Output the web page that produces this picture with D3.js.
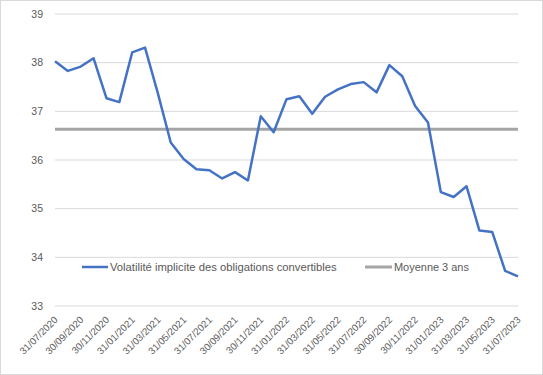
<!DOCTYPE html>
<html><head><meta charset="utf-8">
<script src="https://cdn.jsdelivr.net/npm/d3@7"></script>
<style>body{margin:0;background:#fff;} svg{display:block;font-family:"Liberation Sans",Arial,sans-serif;}</style>
</head><body><svg id="c" width="543" height="375"></svg>
<script>
const dates = ["31/07/2020","31/08/2020","30/09/2020","31/10/2020","30/11/2020","31/12/2020","31/01/2021","28/02/2021","31/03/2021","30/04/2021","31/05/2021","30/06/2021","31/07/2021","31/08/2021","30/09/2021","31/10/2021","30/11/2021","31/12/2021","31/01/2022","28/02/2022","31/03/2022","30/04/2022","31/05/2022","30/06/2022","31/07/2022","31/08/2022","30/09/2022","31/10/2022","30/11/2022","31/12/2022","31/01/2023","28/02/2023","31/03/2023","30/04/2023","31/05/2023","30/06/2023","31/07/2023"];
const volatility = [38.03,37.83,37.92,38.09,37.27,37.19,38.21,38.31,37.37,36.36,36.02,35.81,35.79,35.62,35.75,35.58,36.90,36.57,37.25,37.31,36.95,37.30,37.45,37.56,37.60,37.39,37.95,37.72,37.11,36.77,35.34,35.24,35.46,34.55,34.52,33.72,33.61];
const average3y = dates.map(() => 36.63);
const yTicks = [33,34,35,36,37,38,39];
const tickLabels = dates.filter((d,i) => i % 2 === 0);
const seriesNames = ["Volatilité implicite des obligations convertibles","Moyenne 3 ans"];

const svg = d3.select("#c");
svg.append("rect").attr("x",0.5).attr("y",0.5).attr("width",542).attr("height",374)
  .attr("fill","#fff").attr("stroke","#d9d9d9");

const x = d3.scalePoint().domain(dates).range([55,518]);
const y = d3.scaleLinear().domain([33,39]).range([306,14]);

svg.append("g").selectAll("line").data(yTicks).join("line")
  .attr("x1",55).attr("x2",518).attr("y1",d=>y(d)).attr("y2",d=>y(d))
  .attr("stroke","#d9d9d9").attr("stroke-width",1);

svg.append("g").selectAll("text").data(yTicks).join("text")
  .attr("x",43).attr("y",d=>y(d)).attr("dy","0.35em").attr("text-anchor","end")
  .attr("font-size",10.5).attr("fill","#595959").text(d=>d);

svg.append("g").selectAll("text").data(tickLabels).join("text")
  .attr("transform",d=>`translate(${x(d)+1},${318}) rotate(-45)`)
  .attr("text-anchor","end").attr("dy","0.35em")
  .attr("font-size",9.8).attr("fill","#595959").text(d=>d);

const line = d3.line().x((d,i)=>x(dates[i])).y(d=>y(d));
svg.append("path").datum(average3y).attr("d",line).attr("fill","none")
  .attr("stroke","#a5a5a5").attr("stroke-width",3);
svg.append("path").datum(volatility).attr("d",line).attr("fill","none")
  .attr("stroke","#4472c4").attr("stroke-width",2.5).attr("stroke-linejoin","round");

const lg = svg.append("g");
const items = [{name:seriesNames[0],color:"#4472c4",x0:82,x1:108,tx:110,w:227},{name:seriesNames[1],color:"#a5a5a5",x0:365,x1:392,tx:394,w:75}];
items.forEach(it=>{
  lg.append("line").attr("x1",it.x0).attr("x2",it.x1).attr("y1",267).attr("y2",267)
    .attr("stroke",it.color).attr("stroke-width",it.color==="#a5a5a5"?3:2.5);
  const t = lg.append("text").attr("x",it.tx).attr("y",267).attr("dy","0.35em")
    .attr("font-size",10.5).attr("fill","#595959").text(it.name);
  const len = t.node().getComputedTextLength();
  t.attr("font-size", 10.5*it.w/len);
});
</script></body></html>
